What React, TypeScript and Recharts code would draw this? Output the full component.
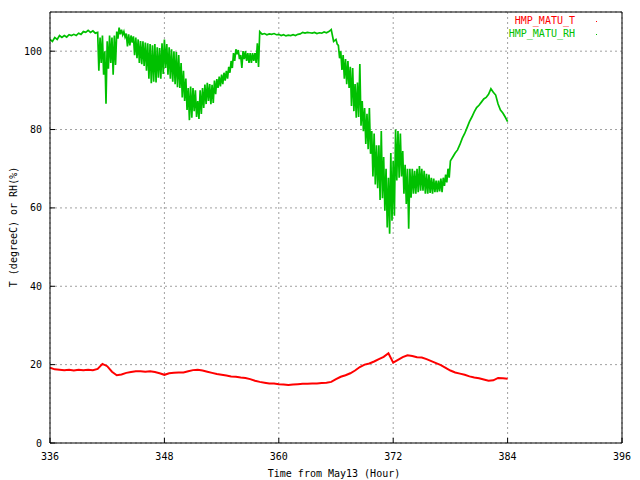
import { CartesianGrid, Legend, Line, LineChart, XAxis, YAxis } from "recharts";

const X_TICKS = [336, 348, 360, 372, 384, 396];
const Y_TICKS = [0, 20, 40, 60, 80, 100];

const RH_A = [
  103, 102.5, 103.5, 103, 104, 103.5, 104, 103.6, 104.2, 104, 104.3, 104, 104.6, 104.3, 105, 104.8,
  105.3, 104.8, 105.2, 104.6,
]; // 336.0 .. 340.75, every 0.25 h

const RH_B = [
  104.8, 95, 103.5, 97, 104, 94, 100, 86.6, 102.5, 95.5, 104, 97, 103.5, 94, 104, 96.5,
  105, 103.2, 106, 104.3, 105.5, 104.2, 105, 103.6, 104.5, 101.2, 104.3, 101.5, 104, 102.2, 103.8, 99,
  103.5, 98.2, 103, 97, 102.6, 96.7, 102.5, 96.2, 102.2, 95, 102, 93, 101.8, 91.8, 101.5, 92.2,
  101.8, 92, 101, 93.2, 100.8, 93, 102, 94.2, 103, 95.7, 101.8, 94, 101, 93, 100.5, 92.2,
  100, 91.6, 99.8, 90.8, 99, 90.6, 97, 88.2, 95, 87.3, 93, 85, 90.6, 82.4, 91, 83,
  90.6, 84.7, 90, 83.2, 87.3, 82.7, 90, 84, 90.6, 85.5, 91.5, 86.5, 91.9, 87.3, 91.6, 86.5,
  91.4, 86.8, 92.5, 89, 92.9, 90.6, 93.5, 91, 94, 91.6, 94.5, 92.5, 95, 93, 96, 94.5,
  97.5, 95.7, 99.5, 97.5, 100.5, 99.2, 100.3, 98, 99, 95.7, 100, 98, 100, 97.5, 99.5, 97,
  99.5, 97, 99.5, 97.5, 99.5, 97, 102, 96, 105,
]; // 341.0 .. 358.0, every 0.125 h

const RH_C = [
  104.3, 104.5, 104.2, 104.4, 104.3, 104.5, 104.2, 104.3, 104.0, 104.2, 103.9, 104.1, 104.0, 104.2, 104.0, 104.3,
  104.4, 104.8, 104.6, 104.8, 104.7, 104.6, 104.8, 104.5, 104.7, 104.6, 104.9, 104.7, 105.0, 105.5, 102.5,
]; // 358.25 .. 365.75, every 0.25 h

const RH_D = [
  103, 101.8, 101.5, 98.2, 100, 95.2, 99, 93, 98, 91.6, 97.5, 90.6, 96, 86, 95.7, 84.7,
  91.6, 83, 92, 83.2, 96.7, 81, 87.3, 79.6, 85.5, 76.3, 84, 75, 85.5, 73.8, 79.6, 68,
  79, 66, 76, 65, 76, 62, 79.6, 62.5, 73, 59.3, 70, 55, 67.7, 53.4, 74, 56.7,
  72, 58, 80, 67, 79.6, 67.7, 79, 68, 74.5, 63.6, 71, 61, 70, 54.7, 70, 62.6,
  70, 63.6, 69.5, 63.6, 70, 64, 70.7, 64.4, 70, 64.4, 69.5, 63.6, 68.7, 63.6, 68.5, 63.8,
  67.7, 63.6, 67.5, 64, 67, 64, 67, 64.2, 67.5, 64, 67.7, 65.6, 68.5, 66.5, 70, 67.7,
  72,
]; // 366.0 .. 378.0, every 0.125 h

const RH_E = [
  73, 74, 74.8, 76.2, 77.8, 79, 80.5, 82, 83.2, 84.5, 85.6, 86.2, 87, 87.8, 88.2, 89,
  90.4, 89.5, 88.8, 86.5, 85, 84.2, 83.2, 82,
]; // 378.25 .. 384.0, every 0.25 h

// T (degreeC), every 0.5 h from 336.0 to 384.0
const T_VALUES = [
  19.2, 18.8, 18.7, 18.6, 18.7, 18.5, 18.7, 18.6, 18.7, 18.6, 18.9, 20.2, 19.6, 18.2, 17.3, 17.5,
  17.9, 18.1, 18.3, 18.3, 18.2, 18.3, 18.1, 17.8, 17.4, 17.8, 17.9, 18.0, 18.0, 18.3, 18.6, 18.7,
  18.5, 18.2, 17.9, 17.6, 17.4, 17.2, 17.0, 16.9, 16.7, 16.6, 16.3, 15.9, 15.6, 15.4, 15.2, 15.2,
  15.0, 14.9, 14.8, 14.9, 15.0, 15.1, 15.1, 15.2, 15.2, 15.3, 15.4, 15.6, 16.3, 16.9, 17.3, 17.8,
  18.5, 19.4, 20.0, 20.3, 20.8, 21.4, 22.0, 22.9, 20.5, 21.2, 21.9, 22.4, 22.2, 21.9, 21.8, 21.4,
  20.9, 20.4, 19.9, 19.2, 18.5, 18.0, 17.7, 17.4, 17.0, 16.7, 16.5, 16.2, 15.9, 16.0, 16.6, 16.5,
  16.4,
];

const RH_PIECES: [number, number, number[]][] = [
  [336, 0.25, RH_A],
  [341, 0.125, RH_B],
  [358.25, 0.25, RH_C],
  [366, 0.125, RH_D],
  [378.25, 0.25, RH_E],
];

const rhData = RH_PIECES.flatMap(([start, step, vals]) => vals.map((v, i) => ({ h: start + i * step, v })));
const tData = T_VALUES.map((v, i) => ({ h: 336 + i * 0.5, v }));

const FONT = "'DejaVu Sans Mono', monospace";
const RED = "#ff0000";
const GREEN = "#00c000";

const tickStyle = { fontSize: 10, fontFamily: FONT, fill: "#000" };

function LegendBox() {
  const row = (text: string, color: string, top: number) => (
    <>
      <div
        style={{
          position: "absolute",
          right: 65,
          top,
          lineHeight: "12px",
          fontSize: 10,
          fontFamily: FONT,
          color,
          whiteSpace: "nowrap",
        }}
      >
        {text}
      </div>
      <div style={{ position: "absolute", left: 596, top: top + 6, width: 1, height: 1, background: color }} />
    </>
  );
  return (
    <div style={{ position: "relative", width: 640, height: 0 }}>
      {row("HMP_MATU_T", RED, 15)}
      {row("HMP_MATU_RH", GREEN, 28)}
    </div>
  );
}

export default function App() {
  return (
    <div style={{ position: "absolute", left: 0, top: 0, background: "#fff" }}>
      <LineChart width={640} height={480} margin={{ top: 0, right: 0, bottom: 0, left: 0 }}>
        <CartesianGrid stroke="#a0a0a0" strokeDasharray="2 3" />
        <XAxis
          dataKey="h"
          type="number"
          domain={[336, 396]}
          ticks={X_TICKS}
          allowDataOverflow
          height={37}
          axisLine={{ stroke: "#000" }}
          tickLine={{ stroke: "#000" }}
          tickSize={-5}
          tickMargin={15}
          tick={tickStyle}
          label={() => (
            <text x={334} y={477} textAnchor="middle" fontSize={10} fontFamily={FONT} fill="#000">
              Time from May13 (Hour)
            </text>
          )}
        />
        <XAxis
          xAxisId="top"
          orientation="top"
          type="number"
          dataKey="h"
          domain={[336, 396]}
          ticks={X_TICKS}
          allowDataOverflow
          height={12}
          axisLine={{ stroke: "#000" }}
          tickLine={{ stroke: "#000" }}
          tickSize={-5}
          tick={false}
        />
        <YAxis
          type="number"
          domain={[0, 110]}
          ticks={Y_TICKS}
          allowDataOverflow
          width={50}
          axisLine={{ stroke: "#000" }}
          tickLine={{ stroke: "#000" }}
          tickSize={-5}
          tickMargin={13}
          tick={tickStyle}
          label={() => (
            <text
              x={17}
              y={227}
              transform="rotate(-90 17 227)"
              textAnchor="middle"
              fontSize={10}
              fontFamily={FONT}
              fill="#000"
            >
              T (degreeC) or RH(%)
            </text>
          )}
        />
        <YAxis
          yAxisId="right"
          orientation="right"
          type="number"
          domain={[0, 110]}
          ticks={Y_TICKS}
          allowDataOverflow
          width={18}
          axisLine={{ stroke: "#000" }}
          tickLine={{ stroke: "#000" }}
          tickSize={-5}
          tick={false}
        />
        <Legend
          layout="vertical"
          align="center"
          verticalAlign="middle"
          wrapperStyle={{ left: 0, top: 0, width: 640, height: 0 }}
          content={() => <LegendBox />}
        />
        <Line
          data={tData}
          dataKey="v"
          name="HMP_MATU_T"
          type="linear"
          stroke={RED}
          strokeWidth={2}
          dot={false}
          isAnimationActive={false}
        />
        <Line
          data={rhData}
          dataKey="v"
          name="HMP_MATU_RH"
          type="linear"
          stroke={GREEN}
          strokeWidth={1.7}
          dot={false}
          isAnimationActive={false}
        />
      </LineChart>
    </div>
  );
}
